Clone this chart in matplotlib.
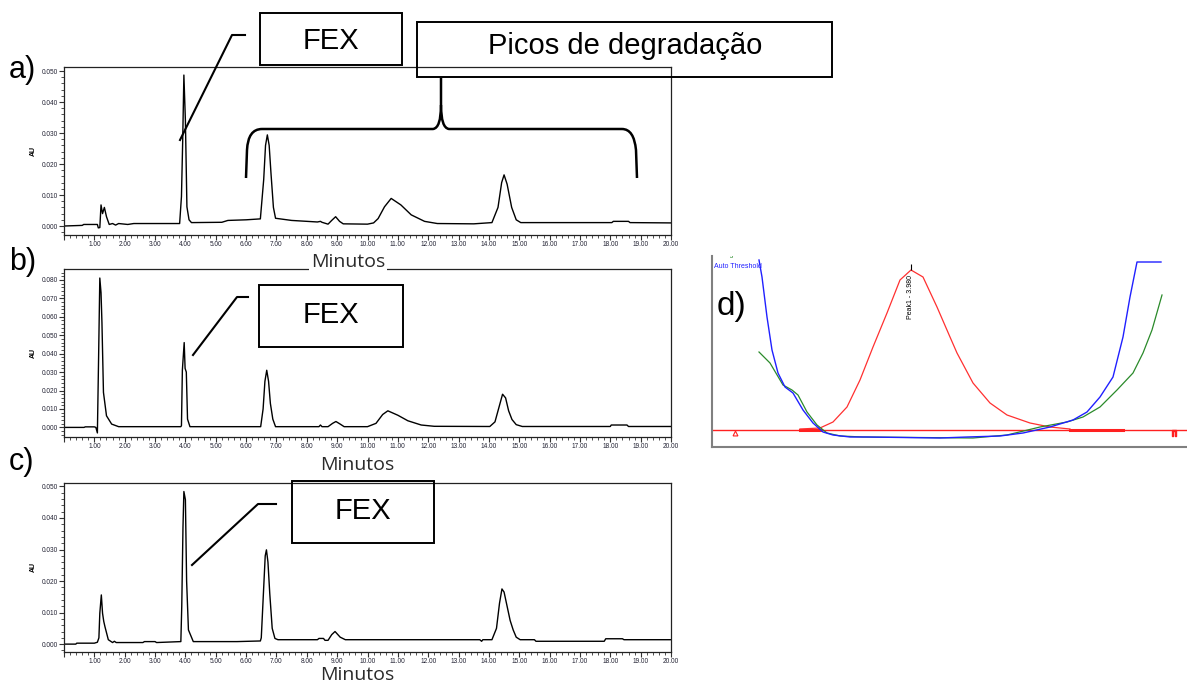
import matplotlib
matplotlib.use("Agg")
import matplotlib.pyplot as plt
from matplotlib.ticker import MultipleLocator, AutoMinorLocator, FuncFormatter
from matplotlib.patches import Rectangle, PathPatch
from matplotlib.path import Path

plt.rcParams['font.family'] = ['Liberation Sans', 'DejaVu Sans']

W, H = 1187, 683

# cromatograma a) - tempo (min) e absorvância (AU)
t_a = [0.0, 0.6, 0.65, 1.1, 1.13, 1.18, 1.22, 1.27, 1.33, 1.4, 1.49, 1.6, 1.7, 1.8, 2.1, 2.3,
       3.0, 3.81, 3.87, 3.91, 3.95, 4.0, 4.05, 4.12, 4.2, 5.2, 5.4, 6.0, 6.47, 6.58, 6.64,
       6.7, 6.76, 6.82, 6.9, 6.97, 7.5, 8.35, 8.45, 8.5, 8.7, 8.82, 8.95, 9.08, 9.2, 10.0,
       10.2, 10.35, 10.56, 10.78, 11.1, 11.44, 11.88, 12.3, 13.5, 14.1, 14.3, 14.42, 14.5,
       14.6, 14.75, 14.9, 15.05, 18.05, 18.1, 18.6, 18.65, 20.0]
au_a = [0.0, 0.0002, 0.0005, 0.0005, -0.0006, -0.0005, 0.0068, 0.004, 0.006, 0.003, 0.0005,
        0.0008, 0.0003, 0.0008, 0.0005, 0.0008, 0.0008, 0.0008, 0.0095, 0.027, 0.0487, 0.034,
        0.0062, 0.002, 0.0011, 0.0012, 0.0018, 0.002, 0.0023, 0.015, 0.026, 0.0294, 0.026,
        0.017, 0.006, 0.0025, 0.0018, 0.0013, 0.0015, 0.0012, 0.0006, 0.0018, 0.003, 0.0015,
        0.0007, 0.0006, 0.001, 0.0024, 0.0062, 0.0089, 0.0068, 0.0036, 0.0015, 0.0008, 0.0007,
        0.0011, 0.006, 0.014, 0.0165, 0.0135, 0.006, 0.002, 0.0011, 0.0011, 0.0015, 0.0015,
        0.0011, 0.001]

# cromatograma b)
t_b = [0.0, 0.66, 0.7, 1.0, 1.05, 1.1, 1.14, 1.18, 1.22, 1.25, 1.3, 1.4, 1.57, 1.8, 3.85,
       3.87, 3.9, 3.96, 3.99, 4.03, 4.07, 4.15, 6.48, 6.56, 6.62, 6.68, 6.74, 6.8, 6.88, 6.97,
       8.4, 8.45, 8.5, 8.7, 8.85, 8.96, 9.1, 9.23, 10.0, 10.28, 10.5, 10.67, 11.0, 11.33, 11.77,
       12.2, 14.03, 14.2, 14.35, 14.45, 14.55, 14.65, 14.76, 14.9, 15.1, 18.0, 18.03, 18.55,
       18.6, 20.0]
au_b = [0.0, 0.0, 0.0003, 0.0003, 0.0, -0.003, 0.038, 0.081, 0.073, 0.057, 0.019, 0.0063,
        0.0018, 0.0004, 0.0004, 0.001, 0.031, 0.046, 0.032, 0.03, 0.0045, 0.0004, 0.0004, 0.01,
        0.025, 0.031, 0.025, 0.013, 0.0045, 0.0004, 0.0004, 0.0013, 0.0004, 0.0004, 0.0022,
        0.0032, 0.0018, 0.0004, 0.0004, 0.0022, 0.007, 0.009, 0.0066, 0.0036, 0.0013, 0.0006,
        0.0005, 0.003, 0.012, 0.018, 0.016, 0.009, 0.0043, 0.0015, 0.0005, 0.0005, 0.0013,
        0.0013, 0.0005, 0.0005]

# cromatograma c)
t_c = [0.0, 0.39, 0.42, 1.0, 1.1, 1.15, 1.18, 1.23, 1.27, 1.31, 1.35, 1.46, 1.6, 1.66, 1.72,
       2.6, 2.65, 3.0, 3.05, 3.85, 3.88, 3.92, 3.95, 4.0, 4.04, 4.1, 4.26, 5.7, 6.47, 6.5,
       6.58, 6.63, 6.67, 6.72, 6.78, 6.86, 6.95, 7.05, 8.35, 8.4, 8.55, 8.6, 8.7, 8.82, 8.93,
       9.1, 9.27, 13.7, 13.76, 13.8, 14.1, 14.25, 14.35, 14.43, 14.5, 14.6, 14.7, 14.8, 14.9,
       15.03, 15.5, 15.55, 17.8, 17.85, 18.4, 18.45, 20.0]
au_c = [0.0, 0.0, 0.0003, 0.0003, 0.0006, 0.002, 0.0098, 0.0156, 0.0098, 0.0072, 0.0055,
        0.0014, 0.0005, 0.0009, 0.0005, 0.0005, 0.0008, 0.0008, 0.0005, 0.0008, 0.012, 0.037,
        0.0484, 0.0458, 0.02, 0.0045, 0.0008, 0.0008, 0.001, 0.002, 0.018, 0.028, 0.0299, 0.026,
        0.016, 0.005, 0.0018, 0.0014, 0.0014, 0.0018, 0.0018, 0.0012, 0.0012, 0.003, 0.004,
        0.0022, 0.0014, 0.0014, 0.0009, 0.0014, 0.0014, 0.005, 0.013, 0.0175, 0.0165, 0.012,
        0.0075, 0.0045, 0.0022, 0.0014, 0.0014, 0.0009, 0.0009, 0.0017, 0.0017, 0.0014, 0.0014]

# painel d) - coordenadas relativas da captura do software
pico_x = [88, 108, 121, 135, 148, 161, 175, 188, 199, 211, 225, 238, 245, 261, 278, 295, 318, 338, 358]
pico_y = [18, 19, 25, 40, 67, 100, 134, 167, 177, 170, 140, 110, 94, 64, 44, 32, 24, 20, 18]
limiar_x = [47, 50, 55, 60, 66, 73, 81, 91, 101, 111, 121, 138, 155, 228, 255, 288, 311, 338,
            361, 375, 388, 401, 411, 418, 425, 449]
limiar_y = [187, 170, 130, 97, 74, 60, 54, 37, 24, 15, 12, 10, 10, 9, 10, 11, 14, 20, 27, 35,
            50, 70, 110, 150, 185, 185]
ajuste_x = [47, 58, 71, 80, 86, 95, 105, 115, 128, 151, 261, 295, 328, 355, 371, 388, 405,
            421, 431, 440, 450]
ajuste_y = [95, 84, 62, 57, 52, 35, 22, 14, 11, 10, 9, 12, 20, 25, 30, 40, 57, 74, 94, 117, 152]
linha_base = 17

fig = plt.figure(figsize=(W / 100, H / 100), dpi=100)


def caixa(l, t, r, b):
    return [l / W, 1 - b / H, (r - l) / W, (b - t) / H]


def cromatograma(box, t, au, ylim):
    ax = fig.add_axes(caixa(*box))
    ax.plot(t, au, color='black', lw=1.0)
    ax.set_xlim(0, 20)
    ax.set_ylim(*ylim)
    ax.xaxis.set_major_locator(MultipleLocator(1))
    ax.xaxis.set_minor_locator(AutoMinorLocator(5))
    ax.yaxis.set_major_locator(MultipleLocator(0.01))
    ax.yaxis.set_minor_locator(AutoMinorLocator(5))
    ax.xaxis.set_major_formatter(FuncFormatter(lambda v, p: '' if v < 0.5 else f'{v:.2f}'))
    ax.yaxis.set_major_formatter(FuncFormatter(lambda v, p: f'{abs(v):.3f}'))
    ax.tick_params(which='major', length=3.5, width=0.8, labelsize=4.7, pad=1,
                   color='#333333', labelcolor='#222233')
    ax.tick_params(which='minor', length=2, width=0.6, color='#333333')
    ax.set_ylabel('AU', fontsize=5, fontweight='bold')
    ax.yaxis.set_label_coords(-0.045, 0.5)
    for s in ax.spines.values():
        s.set_linewidth(0.9)
        s.set_color('#222222')
    return ax


ax_a = cromatograma((64, 67, 671, 235), t_a, au_a, (-0.0029, 0.0513))
ax_b = cromatograma((64, 269, 671, 437), t_b, au_b, (-0.0052, 0.0859))
ax_c = cromatograma((64, 483, 671, 652), t_c, au_c, (-0.0025, 0.0511))

# painel d)
ax_d = fig.add_axes(caixa(712, 256, 1187, 447))
ax_d.set_xlim(0, 475)
ax_d.set_ylim(0, 191)
ax_d.axhline(linha_base, color='#ff2020', lw=1.0)
ax_d.plot([88, 108], [linha_base, linha_base], color='#ff2020', lw=2.2)
ax_d.plot([358, 411], [linha_base, linha_base], color='#ff2020', lw=2.2)
ax_d.plot(pico_x, pico_y, color='#ff3030', lw=0.9)
ax_d.plot(ajuste_x, ajuste_y, color='#2a8a2a', lw=0.9)
ax_d.plot(limiar_x, limiar_y, color='#2020ff', lw=1.0)
ax_d.plot([23], [linha_base - 3], marker='^', ms=3.5, mfc='none', mec='#ff2020', mew=0.8)
ax_d.plot([462], [linha_base - 3], marker='$\\Pi$', ms=4, color='#ff2020')
ax_d.plot([199], [180], marker='|', ms=5, color='black', mew=0.8)
ax_d.text(199, 172, 'Peak1 - 3.980', rotation=90, ha='center', va='top', fontsize=5)
ax_d.text(2, 193, 'Fitting', color='#2a8a2a', fontsize=5, va='center', clip_on=True)
ax_d.text(2, 181, 'Auto Threshold', color='#2020ff', fontsize=5, va='center')
ax_d.set_xticks([])
ax_d.set_yticks([])
for lado in ('top', 'right'):
    ax_d.spines[lado].set_visible(False)
for lado in ('left', 'bottom'):
    ax_d.spines[lado].set_color('#808080')
    ax_d.spines[lado].set_linewidth(1.5)

# rótulos "Minutos"
for x, y in [(348, 262), (357, 465), (357, 675)]:
    fig.text(x / W, 1 - y / H, 'Minutos', fontsize=14, family=['Open Sans', 'DejaVu Sans'],
             ha='center', va='center', color='#2a2a2a',
             bbox=dict(facecolor='white', edgecolor='none', pad=1.5))

# camada de anotações em pixels
ov = fig.add_axes([0, 0, 1, 1], zorder=5)
ov.set_xlim(0, W)
ov.set_ylim(H, 0)
ov.axis('off')
ov.patch.set_alpha(0)

for l, t, r, b in [(260, 13, 402, 65), (417, 22, 832, 77), (259, 285, 403, 347), (292, 481, 434, 543)]:
    ov.add_patch(Rectangle((l, t), r - l, b - t, fill=False, lw=1.4, ec='black'))
ov.text(331, 41, 'FEX', fontsize=21, ha='center', va='center')
ov.text(625, 46, 'Picos de degradação', fontsize=21, ha='center', va='center')
ov.text(331, 315, 'FEX', fontsize=21, ha='center', va='center')
ov.text(363, 511, 'FEX', fontsize=21, ha='center', va='center')

for xs, ys in [([180, 232, 245], [140, 35, 35]),
               ([193, 237, 248], [355, 297, 297]),
               ([192, 258, 276], [565, 504, 504])]:
    ov.plot(xs, ys, color='black', lw=1.5)

chave_esq = Path([(246, 178), (247, 150), (248, 129), (262, 129), (433, 129), (441, 128), (441, 105), (441, 78)],
                 [Path.MOVETO, Path.LINETO, Path.CURVE3, Path.CURVE3, Path.LINETO, Path.CURVE3, Path.CURVE3, Path.LINETO])
chave_dir = Path([(637, 178), (636, 150), (634, 129), (622, 129), (449, 129), (441, 128), (441, 105)],
                 [Path.MOVETO, Path.LINETO, Path.CURVE3, Path.CURVE3, Path.LINETO, Path.CURVE3, Path.CURVE3])
for p in (chave_esq, chave_dir):
    ov.add_patch(PathPatch(p, fill=False, lw=1.8, ec='black'))

for txt, x, y in [('a)', 9, 70), ('b)', 9, 262), ('c)', 9, 462)]:
    ov.text(x, y, txt, fontsize=22, ha='left', va='center')
ov.text(717, 307, 'd)', fontsize=24, ha='left', va='center')

fig.savefig('out.png', dpi=100)
